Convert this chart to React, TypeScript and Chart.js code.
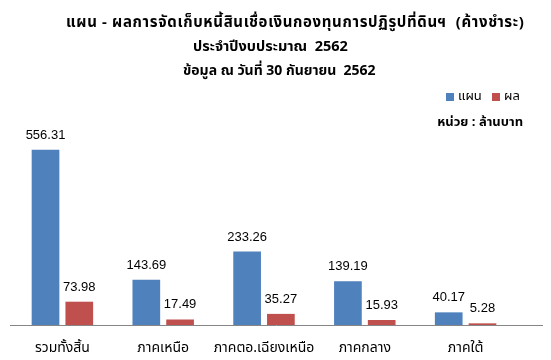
import React, { useEffect, useRef } from "react";
import { Chart, registerables } from "chart.js";

Chart.register(...registerables);

const categories = ["รวมทั้งสิ้น", "ภาคเหนือ", "ภาคตอ.เฉียงเหนือ", "ภาคกลาง", "ภาคใต้"];
const planValues = [556.31, 143.69, 233.26, 139.19, 40.17];
const resultValues = [73.98, 17.49, 35.27, 15.93, 5.28];
const seriesNames = ["แผน", "ผล"];
const titleLines = [
  "แผน - ผลการจัดเก็บหนี้สินเชื่อเงินกองทุนการปฏิรูปที่ดินฯ  (ค้างชำระ)",
  "ประจำปีงบประมาณ  2562",
  "ข้อมูล ณ วันที่ 30 กันยายน  2562",
];
const unitText = "หน่วย : ล้านบาท";

const BLUE = "#4F81BD";
const RED = "#C0504D";
const FONT = "Tahoma, 'Noto Sans Thai', 'Noto Sans', 'DejaVu Sans', sans-serif";
const NUMFONT = "Tahoma, 'Liberation Sans', Arial, sans-serif";

const decorPlugin = {
  id: "decor",
  afterDraw(chart: any) {
    const ctx = chart.ctx;
    const area = chart.chartArea;
    ctx.save();
    // Baseline (category axis line, extended to the plot edge)
    ctx.strokeStyle = "#868686";
    ctx.lineWidth = 1;
    ctx.beginPath();
    ctx.moveTo(area.left - 2, Math.round(area.bottom) + 0.5);
    ctx.lineTo(chart.width - 8, Math.round(area.bottom) + 0.5);
    ctx.stroke();
    // Title
    ctx.fillStyle = "#000";
    ctx.textAlign = "left";
    ctx.textBaseline = "middle";
    const starts = [66, 193, 183];
    const ys = [24, 48, 72];
    const sizes = [15, 14.5, 14];
    const spacing = ["0.65px", "0px", "0px"];
    titleLines.forEach((t, i) => {
      ctx.font = `bold ${sizes[i]}px ${FONT}`;
      (ctx as any).letterSpacing = spacing[i];
      ctx.fillText(t, starts[i], ys[i]);
    });
    (ctx as any).letterSpacing = "0px";
    // Legend
    ctx.font = `13px ${FONT}`;
    ctx.fillStyle = BLUE;
    ctx.fillRect(446, 93, 8, 8);
    ctx.fillStyle = "#000";
    ctx.fillText(seriesNames[0], 458, 97);
    ctx.fillStyle = RED;
    ctx.fillRect(492, 93, 8, 8);
    ctx.fillStyle = "#000";
    ctx.fillText(seriesNames[1], 504, 97);
    // Unit
    ctx.font = `bold 13px ${FONT}`;
    ctx.textAlign = "right";
    ctx.fillText(unitText, 523, 123);
    // Data labels
    ctx.font = `13px ${NUMFONT}`;
    ctx.textAlign = "center";
    ctx.textBaseline = "alphabetic";
    chart.data.datasets.forEach((ds: any, di: number) => {
      const meta = chart.getDatasetMeta(di);
      meta.data.forEach((bar: any, i: number) => {
        ctx.fillText(ds.data[i].toFixed(2), bar.x, bar.y - 11);
      });
    });
    ctx.restore();
  },
};

export default function App() {
  const ref = useRef<HTMLCanvasElement>(null);
  useEffect(() => {
    document.body.style.margin = "0";
    const chart = new Chart(ref.current!, {
      type: "bar",
      data: {
        labels: categories,
        datasets: [
          { label: seriesNames[0], data: planValues, backgroundColor: BLUE, categoryPercentage: 0.67, barPercentage: 0.82 },
          { label: seriesNames[1], data: resultValues, backgroundColor: RED, categoryPercentage: 0.67, barPercentage: 0.82 },
        ],
      },
      options: {
        animation: false,
        responsive: false,
        layout: { padding: { left: 12, right: 35, top: 136, bottom: 5 } },
        plugins: { legend: { display: false }, title: { display: false }, tooltip: { enabled: false } },
        scales: {
          y: { display: false, min: 0, max: 600 },
          x: {
            grid: { display: false, drawTicks: false },
            border: { display: false },
            afterFit: (scale: any) => {
              scale.height = 30;
            },
            ticks: {
              color: "#000",
              font: { family: FONT, size: 14 },
              padding: 16,
              maxRotation: 0,
              minRotation: 0,
              autoSkip: false,
            },
          },
        },
      },
      plugins: [decorPlugin],
    });
    return () => chart.destroy();
  }, []);
  return (
    <div style={{ width: 551, height: 360 }}>
      <canvas ref={ref} width={551} height={360} style={{ display: "block" }} />
    </div>
  );
}
